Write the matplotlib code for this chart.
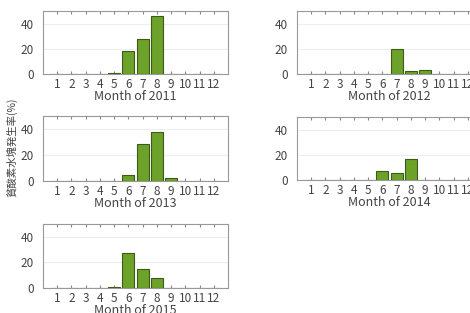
import matplotlib
matplotlib.use("Agg")
import numpy as np
import matplotlib.pyplot as plt

plt.rcParams['font.family'] = ['Noto Sans CJK JP', 'DejaVu Sans']

months = list(range(1, 13))
month_labels = [str(m) for m in months]
years = ['2011', '2012', '2013', '2014', '2015']

# 貧酸素水塊発生率 (%) per month
r2011 = [0, 0, 0, 0, 1, 18, 28, 46, 0, 0, 0, 0]
r2012 = [0, 0, 0, 0, 0, 0, 20, 2, 3, 0, 0, 0]
r2013 = [0, 0, 0, 0, 0, 5, 28.5, 38, 2, 0, 0, 0]
r2014 = [0, 0, 0, 0, 0, 7, 5.5, 16.5, 0, 0, 0, 0]
r2015 = [0, 0, 0, 0, 0.5, 27, 14.5, 7.5, 0, 0, 0, 0]
rates = [r2011, r2012, r2013, r2014, r2015]

W, H = 470, 313
fig = plt.figure(figsize=(4.7, 3.13), dpi=100)

# axes boxes in pixels: left, top, right, bottom
boxes = [(43, 11, 228, 74), (297, 11, 482, 74),
         (43, 116, 228, 181), (297, 117, 482, 180),
         (43, 224, 228, 288)]

for yr, vals, (l, t, r, b) in zip(years, rates, boxes):
    ax = fig.add_axes([l / W, 1 - b / H, (r - l) / W, (b - t) / H])
    ax.bar(months, vals, width=0.85, color='#6ca22a', edgecolor='#3d5a18', linewidth=0.8, zorder=3)
    ax.set_xlim(0, 13)
    ax.set_ylim(0, 50)
    ax.set_yticks([0, 20, 40])
    ax.set_xticks(months)
    ax.set_xticklabels(month_labels)
    ax.yaxis.grid(True, color='#eeeeee', linewidth=0.8, zorder=0)
    ax.tick_params(axis='x', bottom=True, top=True, direction='in', length=2,
                   color='#888888', labelsize=8.5, labelcolor='#444444', pad=3)
    ax.tick_params(axis='y', left=False, labelsize=8.5, labelcolor='#444444', pad=3)
    for s in ax.spines.values():
        s.set_color('#999999')
        s.set_linewidth(0.8)
    ax.set_xlabel('Month of ' + yr, fontsize=9, color='#444444', labelpad=-1)

fig.text(12 / W, 1 - 147 / H, '貧酸素水塊発生率(%)', rotation=90, ha='center', va='center',
         fontsize=7.5, color='#444444')

fig.savefig('out.png', dpi=100)
